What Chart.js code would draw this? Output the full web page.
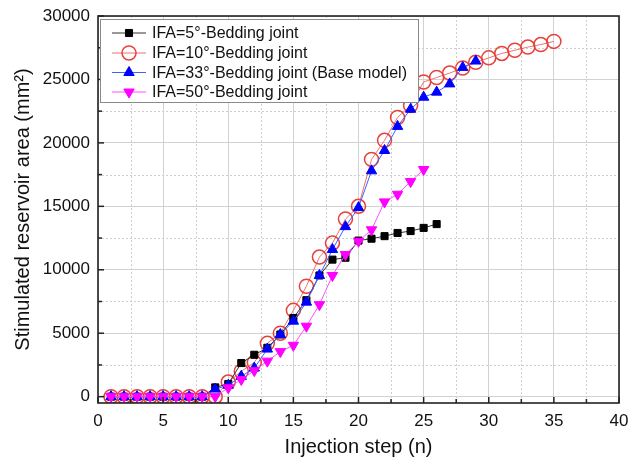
<!DOCTYPE html>
<html>
<head>
<meta charset="utf-8">
<script src="https://cdn.jsdelivr.net/npm/chart.js@4.4.1/dist/chart.umd.min.js"></script>
<style>
  html,body{margin:0;padding:0;background:#fff;}
  #wrap{width:628px;height:459px;}
</style>
</head>
<body>
<div id="wrap"><canvas id="chart" width="628" height="459"></canvas></div>
<script>
// Data
const labels5=['IFA=5°-Bedding joint','IFA=10°-Bedding joint','IFA=33°-Bedding joint (Base model)','IFA=50°-Bedding joint'];
const ifa5=[0,0,0,0,0,0,0,0,730,1000,2650,3300,3850,4900,6200,7600,9550,10800,10950,12300,12450,12650,12900,13050,13300,13600];
const ifa10=[0,0,0,0,0,0,0,0,0,1150,2000,2700,4200,5000,6800,8700,11000,12100,14000,15000,18700,20200,22000,22950,24800,25150,25500,25900,26350,26700,27050,27300,27550,27750,28000];
const ifa33=[0,0,0,0,0,0,0,0,600,900,1600,2250,3750,4900,5950,7450,9550,11600,13400,14900,17800,19400,21300,22650,23600,24000,24650,25950,26450];
const ifa50=[0,0,0,0,0,0,0,0,0,700,1350,2050,2800,3550,4050,5550,7250,9550,11200,12250,13150,15350,15950,16950,17900];
const xTicks=[0,5,10,15,20,25,30,35,40];
const yTicks=[0,5000,10000,15000,20000,25000,30000];

const FONT='"Liberation Sans", Arial, sans-serif';
const toPts=arr=>arr.map((v,i)=>({x:i+1,y:v}));

const series=[
  {label:labels5[0],data:toPts(ifa5),borderColor:'#333',pointStyle:'rect',pointRadius:5,pointBackgroundColor:'#000',pointBorderColor:'#000',pointBorderWidth:1,pointRotation:0,order:3},
  {label:labels5[1],data:toPts(ifa10),borderColor:'#f07070',pointStyle:'circle',pointRadius:7,pointBackgroundColor:'rgba(0,0,0,0)',pointBorderColor:'#e8403a',pointBorderWidth:1.5,pointRotation:0,order:4},
  {label:labels5[2],data:toPts(ifa33),borderColor:'#4060ff',pointStyle:'triangle',pointRadius:6,pointBackgroundColor:'#0000ff',pointBorderColor:'#0000ff',pointBorderWidth:1,pointRotation:0,order:2},
  {label:labels5[3],data:toPts(ifa50),borderColor:'#ff50ff',pointStyle:'triangle',pointRadius:6,pointBackgroundColor:'#ff00ff',pointBorderColor:'#ff00ff',pointBorderWidth:1,pointRotation:180,order:1}
];
series.forEach(s=>{s.borderWidth=1;s.fill=false;s.tension=0;s.pointHoverRadius=s.pointRadius;});

// minor dotted grid, inward ticks and frame
const framePlugin={
  id:'frame',
  beforeDatasetsDraw(chart){
    const {ctx,chartArea:a,scales:{x,y}}=chart;
    ctx.save();
    ctx.strokeStyle='#cfcfcf';ctx.lineWidth=1;ctx.setLineDash([2,2]);
    for(let v=2.5;v<40;v+=5){const px=Math.round(x.getPixelForValue(v))+0.5;ctx.beginPath();ctx.moveTo(px,a.top);ctx.lineTo(px,a.bottom);ctx.stroke();}
    for(let v=2500;v<30000;v+=5000){const py=Math.round(y.getPixelForValue(v))+0.5;ctx.beginPath();ctx.moveTo(a.left,py);ctx.lineTo(a.right,py);ctx.stroke();}
    ctx.restore();
  },
  afterDatasetsDraw(chart){
    const {ctx,chartArea:a,scales:{x,y}}=chart;
    ctx.save();
    ctx.strokeStyle='#222';ctx.lineWidth=1.5;
    for(let v=0;v<=40;v+=2.5){const px=x.getPixelForValue(v);const len=(v%5===0)?6:4;ctx.beginPath();ctx.moveTo(px,a.bottom);ctx.lineTo(px,a.bottom-len);ctx.stroke();}
    for(let v=0;v<=30000;v+=2500){const py=y.getPixelForValue(v);const len=(v%5000===0)?6:4;ctx.beginPath();ctx.moveTo(a.left,py);ctx.lineTo(a.left+len,py);ctx.stroke();}
    ctx.lineWidth=1.6;
    ctx.strokeRect(a.left,a.top,a.right-a.left,a.bottom-a.top);
    ctx.restore();
  }
};

function drawMarker(ctx,ds,x,y){
  ctx.save();
  ctx.fillStyle=ds.pointBackgroundColor;ctx.strokeStyle=ds.pointBorderColor;ctx.lineWidth=ds.pointBorderWidth;
  Chart.helpers.drawPoint(ctx,{pointStyle:ds.pointStyle,radius:ds.pointRadius,rotation:ds.pointRotation,borderWidth:ds.pointBorderWidth},x,y);
  ctx.restore();
}

// legend box inside the plot
const legendPlugin={
  id:'boxLegend',
  afterDraw(chart){
    const {ctx}=chart;
    const bx=100.5,by=19.5,bw=318,bh=83;
    ctx.save();
    ctx.fillStyle='#fff';ctx.fillRect(bx,by,bw,bh);
    ctx.strokeStyle='#8a8a8a';ctx.lineWidth=1;ctx.strokeRect(bx,by,bw,bh);
    const rows=[33,53,72.5,92];
    chart.data.datasets.forEach((ds,i)=>{
      const cy=rows[i];
      ctx.strokeStyle=ds.borderColor;ctx.lineWidth=1;
      ctx.beginPath();ctx.moveTo(112,cy);ctx.lineTo(146,cy);ctx.stroke();
      drawMarker(ctx,ds,129,cy);
      ctx.fillStyle='#111';ctx.font='16px '+FONT;ctx.textBaseline='middle';ctx.textAlign='left';
      ctx.fillText(ds.label,152,cy+1);
    });
    ctx.restore();
  }
};

new Chart(document.getElementById('chart'),{
  type:'line',
  data:{datasets:series},
  options:{
    responsive:false,
    animation:false,
    devicePixelRatio:1,
    layout:{padding:{top:16,right:9,left:0,bottom:0}},
    plugins:{legend:{display:false},tooltip:{enabled:false}},
    scales:{
      x:{
        type:'linear',min:0,max:40,
        afterBuildTicks:s=>{s.ticks=xTicks.map(v=>({value:v}));},
        afterFit:s=>{s.height=56;s.paddingLeft=0;s.paddingRight=0;},
        grid:{color:'#d2d2d2',drawTicks:false},
        border:{display:false},
        ticks:{font:{family:FONT,size:17},color:'#111',padding:8,maxRotation:0,callback:v=>String(v)},
        title:{display:true,text:'Injection step (n)',font:{family:FONT,size:20},color:'#111',padding:{top:0,bottom:0}}
      },
      y:{
        type:'linear',min:-500,max:30000,
        afterBuildTicks:s=>{s.ticks=yTicks.map(v=>({value:v}));},
        afterFit:s=>{s.width=98;s.paddingTop=0;s.paddingBottom=0;},
        grid:{color:'#d2d2d2',drawTicks:false},
        border:{display:false},
        ticks:{font:{family:FONT,size:17},color:'#111',padding:8,callback:v=>String(v)},
        title:{display:true,text:'Stimulated reservoir area (mm²)',font:{family:FONT,size:20},color:'#111',padding:{top:11,bottom:0}}
      }
    }
  },
  plugins:[framePlugin,legendPlugin]
});
</script>
</body>
</html>
